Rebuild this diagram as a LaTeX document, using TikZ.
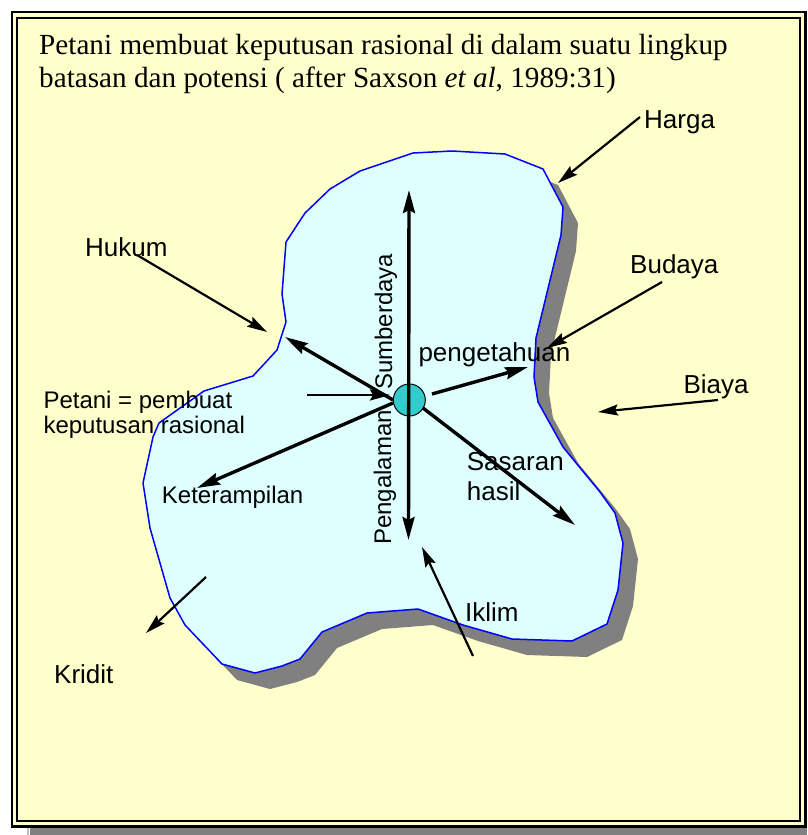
\documentclass[tikz,border=0pt]{standalone}
\usepackage{fontspec}
\setmainfont{Liberation Serif}
\setsansfont{Liberation Sans}
\usetikzlibrary{arrows.meta}
\definecolor{bgyellow}{RGB}{255,255,204}
\definecolor{blobcyan}{RGB}{223,255,255}
\definecolor{shadowgray}{RGB}{128,128,128}
\definecolor{dotteal}{RGB}{51,204,204}
\definecolor{blobblue}{RGB}{0,0,255}
\begin{document}
\begin{tikzpicture}[x=1pt,y=-1pt,
  lbl/.style={font=\sffamily\fontsize{26}{30}\selectfont, inner sep=0pt, anchor=base west},
  lblsmall/.style={font=\sffamily\fontsize{24}{25}\selectfont, inner sep=0pt, anchor=base west},
  bighead/.tip={Stealth[length=23pt,width=12pt,inset=3pt]},
  smallhead/.tip={Stealth[length=20pt,width=11pt,inset=3pt]},
  thickarrow/.style={line width=3.4pt, -bighead},
  thinarrow/.style={line width=2.2pt, -smallhead}
]
\useasboundingbox (0,0) rectangle (807,835);
\fill[white] (0,0) rectangle (807,835);
% frame shadow
\fill[shadowgray] (30,828) rectangle (807,835);
\fill[black!25] (27,828) rectangle (29,835);
% frame
\fill[bgyellow] (12.2,12) rectangle (805.5,826.7);
\draw[line width=2.5pt] (12.2,12) rectangle (805.5,826.7);
\draw[line width=2.3pt] (17.3,17.7) rectangle (799.8,821.2);
% title
\node[font=\fontsize{29.2}{33}\selectfont, inner sep=0pt, anchor=base west] (title) at (39,54)
  {\begin{tabular}[t]{@{}l@{}}Petani membuat keputusan rasional di dalam suatu lingkup\\batasan dan potensi ( after Saxson \textit{et al}, 1989:31)\end{tabular}};
% blob shadow
\fill[shadowgray, shift={(15,16)}]
 (413,153)--(452,151)--(505,154)--(543,169)--(563,207)--(561,235)--(536,338)--(534,377)--(538,402)--(563,447)--(600,492)--(615,513)--(623,543)--(618,590)--(607,624)--(572,641)--(512,639)--(463,625)--(418,609)--(367,613)--(322,632)--(300,659)--(282,666)--(255,673)--(222,664)--(185,625)--(170,598)--(150,528)--(143,483)--(153,437)--(159,423)--(204,391)--(253,376)--(277,350)--(286,322)--(282,294)--(286,242)--(305,213)--(330,189)--(360,171)--cycle;
% blob
\draw[blobblue, fill=blobcyan, line width=1.5pt, line join=round]
 (413,153)--(452,151)--(505,154)--(543,169)--(563,207)--(561,235)--(536,338)--(534,377)--(538,402)--(563,447)--(600,492)--(615,513)--(623,543)--(618,590)--(607,624)--(572,641)--(512,639)--(463,625)--(418,609)--(367,613)--(322,632)--(300,659)--(282,666)--(255,673)--(222,664)--(185,625)--(170,598)--(150,528)--(143,483)--(153,437)--(159,423)--(204,391)--(253,376)--(277,350)--(286,322)--(282,294)--(286,242)--(305,213)--(330,189)--(360,171)--cycle;
% labels
\node[lbl] (harga) at (644,128.3) {Harga};
\node[lbl] (budaya) at (630,273.3) {Budaya};
\node[lbl] (biaya) at (683.3,393.3) {Biaya};
\node[lbl] (hukum) at (85,256) {Hukum};
\node[lbl] (pengetahuan) at (418.3,361.7) {pengetahuan};
\node[lbl] (sasaran) at (466.7,470) {\begin{tabular}[t]{@{}l@{}}Sasaran\\hasil\end{tabular}};
\node[lbl] (iklim) at (465,621.7) {Iklim};
\node[lbl] (kridit) at (54,683) {Kridit};
\node[lblsmall] (keterampilan) at (161.7,503.3) {Keterampilan};
\node[lblsmall] (petani) at (43.3,408.3) {\begin{tabular}[t]{@{}l@{}}Petani = pembuat\\keputusan rasional\end{tabular}};
\node[lblsmall, rotate=90] (sumberdaya) at (392,390) {Sumberdaya};
\node[lblsmall, rotate=90] (pengalaman) at (391,545) {Pengalaman};
% centre
\node[circle, draw=black, line width=1pt, fill=dotteal, minimum size=32pt, inner sep=0pt] (c) at (409.3,400) {};
% arrow end points
\coordinate (vt) at (409,190);
\coordinate (vb) at (408.5,540);
\coordinate (ulS) at (393,400);
\coordinate (ulE) at (285,337);
\coordinate (llS) at (393,403);
\coordinate (llE) at (197,488);
\coordinate (rS) at (432,394);
\coordinate (rE) at (528,367);
\coordinate (lrS) at (423,408);
\coordinate (lrE) at (575,525);
\coordinate (hS) at (307,395);
\coordinate (hE) at (390,395);
\coordinate (hargaS) at (640,117);
\coordinate (hargaE) at (558,183);
\coordinate (budS) at (662,282);
\coordinate (budE) at (547,348);
\coordinate (biaS) at (718,400);
\coordinate (biaE) at (598,412);
\coordinate (hukS) at (137,255);
\coordinate (hukE) at (267,332);
\coordinate (kriS) at (206,577);
\coordinate (kriE) at (146,633);
\coordinate (ikS) at (473,656);
\coordinate (ikE) at (422,547);
% thick arrows
\draw[line width=3.4pt, bighead-bighead] (vt) -- (vb);
\draw[thickarrow] (ulS) -- (ulE);
\draw[thickarrow] (llS) -- (llE);
\draw[thickarrow] (rS) -- (rE);
\draw[thickarrow] (lrS) -- (lrE);
\draw[thinarrow] (hS) -- (hE);
% thin arrows
\draw[thinarrow] (hargaS) -- (hargaE);
\draw[thinarrow] (budS) -- (budE);
\draw[thinarrow] (biaS) -- (biaE);
\draw[thinarrow] (hukS) -- (hukE);
\draw[thinarrow] (kriS) -- (kriE);
\draw[thinarrow] (ikS) -- (ikE);
\end{tikzpicture}
\end{document}
